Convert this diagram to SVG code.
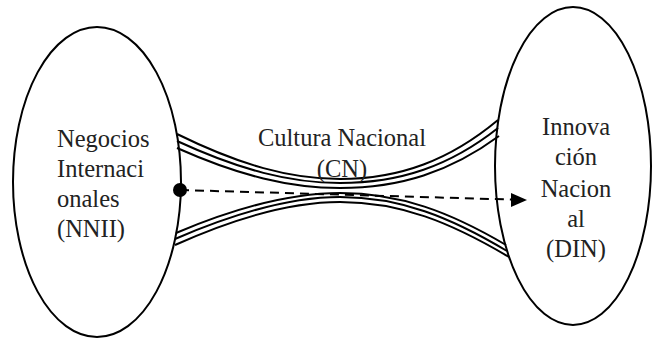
<svg xmlns="http://www.w3.org/2000/svg" width="655" height="339" viewBox="0 0 655 339">
<defs>
<style>
.node{fill:#fff;stroke:#000;stroke-width:2}
.band{fill:none;stroke:#000;stroke-width:2}
.dash{fill:none;stroke:#000;stroke-width:2;stroke-dasharray:9,6}
.t{font-family:"Liberation Serif","Times New Roman","DejaVu Serif",serif;font-size:24.5px;fill:#222}
</style>
</defs>
<rect width="655" height="339" fill="#fff"/>
<g id="nnii">
<ellipse class="node" cx="97" cy="182" rx="84" ry="155"/>
<text class="t" x="57" y="147">Negocios</text>
<text class="t" x="57" y="177">Internaci</text>
<text class="t" x="57" y="207">onales</text>
<text class="t" x="57" y="237">(NNII)</text>
</g>
<g id="din">
<ellipse class="node" cx="573" cy="166" rx="78" ry="159"/>
<text class="t" x="576" y="135" text-anchor="middle">Innova</text>
<text class="t" x="576" y="165" text-anchor="middle">ción</text>
<text class="t" x="576" y="197" text-anchor="middle">Nacion</text>
<text class="t" x="576" y="227" text-anchor="middle">al</text>
<text class="t" x="576" y="257" text-anchor="middle">(DIN)</text>
</g>
<g id="connectors">
<path class="band" d="M177,134 C240,165 290,179 340,179 C400,179 450,160 498,120"/>
<path class="band" d="M177,141 C240,170 290,183 340,183 C400,183 450,166 498,128"/>
<path class="band" d="M177,148 C240,176 290,188 340,188 C400,188 450,172 499,136"/>
<path class="band" d="M176,233 C235,208 290,193 340,193 C400,193 450,212 506,245"/>
<path class="band" d="M175,239 C235,213 290,197 340,197 C400,197 450,217 507,251"/>
<path class="band" d="M175,245 C235,218 290,202 340,202 C400,202 450,222 509,257"/>
<line class="dash" x1="180" y1="190" x2="512" y2="199.6"/>
<path d="M511,193 L527,200 L511,207 Z" fill="#000"/>
<circle cx="180" cy="190" r="7" fill="#000"/>
</g>
<g id="cn">
<text class="t" x="342" y="146" text-anchor="middle">Cultura Nacional</text>
<text class="t" x="342" y="177" text-anchor="middle">(CN)</text>
</g>
</svg>
